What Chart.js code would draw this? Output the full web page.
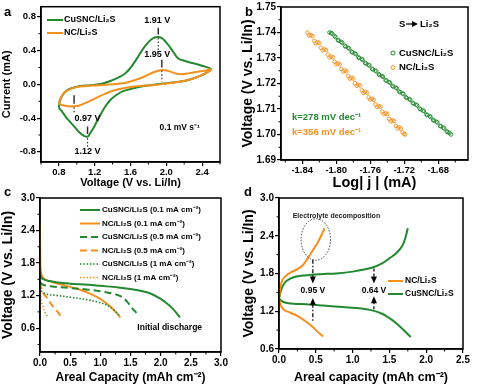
<!DOCTYPE html>
<html>
<head>
<meta charset="utf-8">
<script src="https://cdn.jsdelivr.net/npm/chart.js@4.4.1/dist/chart.umd.min.js"></script>
<style>
  html, body { margin: 0; padding: 0; background: #fff; }
  #wrap { position: relative; width: 480px; height: 388px; overflow: hidden; }
  canvas { position: absolute; }
</style>
</head>
<body>
<div id="wrap">
  <canvas id="chartA" width="240" height="195" style="left:0;top:0"></canvas>
  <canvas id="chartB" width="240" height="195" style="left:240px;top:0"></canvas>
  <canvas id="chartC" width="240" height="203" style="left:0;top:185px"></canvas>
  <canvas id="chartD" width="240" height="203" style="left:240px;top:185px"></canvas>
</div>
<script>
const FONT = '"Liberation Sans", Arial, Helvetica, sans-serif';
const GREEN = '#23892f';
const ORANGE = '#f5901e';

// ---- (a) cyclic voltammetry ----
const aXTicks = [0.8, 1.2, 1.6, 2.0, 2.4];
const aYTicks = [-0.8, -0.4, 0.0, 0.4, 0.8];
const cvCuV = [0.80, 0.81, 0.84, 0.89, 0.96, 1.04, 1.15, 1.29, 1.40, 1.48, 1.53, 1.56, 1.58, 1.63, 1.68, 1.74, 1.80, 1.86, 1.91, 1.96, 2.02, 2.08, 2.13, 2.20, 2.30, 2.40, 2.50,
               2.45, 2.38, 2.30, 2.20, 2.05, 1.90, 1.75, 1.62, 1.52, 1.45, 1.38, 1.32, 1.26, 1.20, 1.15, 1.12, 1.08, 1.03, 0.98, 0.93, 0.88, 0.84, 0.80];
const cvCuI = [-0.28, -0.20, -0.13, -0.07, -0.04, -0.02, -0.01, 0.01, 0.05, 0.09, 0.12, 0.15, 0.17, 0.24, 0.32, 0.42, 0.50, 0.55, 0.56, 0.54, 0.47, 0.38, 0.31, 0.28, 0.25, 0.22, 0.18,
               0.14, 0.10, 0.07, 0.04, 0.02, 0.00, -0.02, -0.05, -0.08, -0.12, -0.18, -0.26, -0.37, -0.49, -0.58, -0.62, -0.61, -0.57, -0.51, -0.45, -0.39, -0.33, -0.28];
const cvNcV = [0.80, 0.82, 0.86, 0.92, 1.00, 1.10, 1.25, 1.40, 1.55, 1.65, 1.75, 1.85, 1.95, 2.02, 2.10, 2.17, 2.25, 2.35, 2.43, 2.50,
               2.42, 2.30, 2.15, 2.00, 1.85, 1.70, 1.55, 1.42, 1.32, 1.22, 1.12, 1.03, 0.97, 0.91, 0.86, 0.82, 0.80];
const cvNcI = [-0.22, -0.16, -0.10, -0.06, -0.03, -0.02, -0.01, 0.00, 0.02, 0.05, 0.09, 0.14, 0.17, 0.16, 0.13, 0.12, 0.13, 0.15, 0.16, 0.18,
               0.12, 0.07, 0.03, 0.01, -0.01, -0.02, -0.04, -0.07, -0.11, -0.16, -0.21, -0.25, -0.26, -0.26, -0.25, -0.24, -0.22];

// ---- (b) Tafel plots ----
const bXTicks = [-1.84, -1.80, -1.76, -1.72, -1.68];
const bYTicks = [1.69, 1.70, 1.71, 1.72, 1.73, 1.74, 1.75];
const tafCuX = [-1.808, -1.805, -1.801, -1.797, -1.793, -1.789, -1.785, -1.781, -1.777, -1.773, -1.769, -1.765, -1.761, -1.757, -1.753, -1.749, -1.745, -1.741, -1.737,
                -1.733, -1.729, -1.725, -1.721, -1.717, -1.713, -1.709, -1.705, -1.701, -1.697, -1.693, -1.689, -1.685, -1.681, -1.677, -1.673, -1.669, -1.665,
                -1.806, -1.802, -1.798, -1.794, -1.790, -1.786, -1.782, -1.778, -1.774, -1.770, -1.766, -1.762, -1.758, -1.754, -1.750, -1.746, -1.742, -1.738,
                -1.734, -1.730, -1.726, -1.722, -1.718, -1.714, -1.710, -1.706, -1.702, -1.698, -1.694, -1.690, -1.686, -1.682, -1.678, -1.674, -1.670, -1.667];
const tafCuY = [1.7400, 1.7396, 1.7382, 1.7368, 1.7360, 1.7345, 1.7337, 1.7322, 1.7315, 1.7300, 1.7293, 1.7278, 1.7271, 1.7255, 1.7248, 1.7233, 1.7226, 1.7211, 1.7203,
                1.7188, 1.7181, 1.7166, 1.7159, 1.7143, 1.7136, 1.7121, 1.7114, 1.7099, 1.7092, 1.7076, 1.7069, 1.7054, 1.7047, 1.7032, 1.7024, 1.7010, 1.7000,
                1.7398, 1.7386, 1.7370, 1.7363, 1.7348, 1.7340, 1.7325, 1.7318, 1.7303, 1.7296, 1.7281, 1.7273, 1.7258, 1.7251, 1.7236, 1.7229, 1.7213, 1.7206,
                1.7191, 1.7184, 1.7169, 1.7161, 1.7146, 1.7139, 1.7124, 1.7117, 1.7102, 1.7094, 1.7079, 1.7072, 1.7057, 1.7050, 1.7034, 1.7027, 1.7012, 1.7006];
const tafNcX = [-1.834, -1.830, -1.826, -1.822, -1.818, -1.814, -1.810, -1.806, -1.802, -1.798, -1.794, -1.790, -1.786, -1.782, -1.778, -1.774, -1.770, -1.766, -1.762,
                -1.758, -1.754, -1.750, -1.746, -1.742, -1.738, -1.734, -1.730, -1.726, -1.722, -1.719,
                -1.832, -1.828, -1.824, -1.820, -1.816, -1.812, -1.808, -1.804, -1.800, -1.796, -1.792, -1.788, -1.784, -1.780, -1.776, -1.772, -1.768, -1.764,
                -1.760, -1.756, -1.752, -1.748, -1.744, -1.740, -1.736, -1.732, -1.728, -1.724, -1.720];
const tafNcY = [1.7400, 1.7390, 1.7368, 1.7362, 1.7340, 1.7334, 1.7313, 1.7306, 1.7285, 1.7279, 1.7257, 1.7251, 1.7229, 1.7223, 1.7201, 1.7195, 1.7173, 1.7168, 1.7146,
                1.7140, 1.7118, 1.7112, 1.7090, 1.7084, 1.7062, 1.7056, 1.7034, 1.7028, 1.7008, 1.7000,
                1.7388, 1.7386, 1.7358, 1.7359, 1.7330, 1.7331, 1.7302, 1.7303, 1.7276, 1.7275, 1.7247, 1.7248, 1.7219, 1.7219, 1.7191, 1.7192, 1.7163, 1.7164,
                1.7137, 1.7136, 1.7108, 1.7109, 1.7080, 1.7080, 1.7052, 1.7053, 1.7024, 1.7023, 1.7002];

// ---- (c) initial discharge ----
const cXTicks = [0.0, 0.5, 1.0, 1.5, 2.0, 2.5, 3.0];
const cYTicks = [0.6, 1.2, 1.8, 2.4, 3.0];
const cuHiCap = [0, 0.01, 0.03, 0.08, 0.15, 0.3, 0.5, 0.8, 1.0, 1.3, 1.5, 1.7, 1.85, 2.0, 2.1, 2.2, 2.32];
const cuHiV   = [1.62, 1.56, 1.52, 1.49, 1.47, 1.44, 1.42, 1.40, 1.38, 1.35, 1.32, 1.28, 1.23, 1.14, 1.06, 0.96, 0.80];
const ncHiCap = [0, 0.003, 0.008, 0.02, 0.05, 0.1, 0.2, 0.4, 0.6, 0.8, 0.95, 1.1, 1.22, 1.33];
const ncHiV   = [2.50, 2.00, 1.75, 1.60, 1.53, 1.49, 1.45, 1.39, 1.33, 1.25, 1.17, 1.06, 0.94, 0.80];
const cuMidCap = [0, 0.05, 0.2, 0.5, 0.8, 1.0, 1.2, 1.35, 1.45, 1.52, 1.6];
const cuMidV   = [1.45, 1.40, 1.37, 1.34, 1.31, 1.28, 1.24, 1.18, 1.08, 0.98, 0.88];
const ncMidCap = [0, 0.02, 0.05, 0.1, 0.15, 0.2, 0.28, 0.37];
const ncMidV   = [1.45, 1.35, 1.25, 1.18, 1.10, 1.02, 0.92, 0.78];
const cuLoCap = [0, 0.03, 0.1, 0.3, 0.5, 0.8, 1.0, 1.15, 1.25, 1.31];
const cuLoV   = [1.35, 1.28, 1.23, 1.20, 1.17, 1.12, 1.07, 1.00, 0.91, 0.84];
const ncLoCap = [0, 0.02, 0.05, 0.08, 0.12];
const ncLoV   = [1.25, 1.10, 1.00, 0.90, 0.82];

// ---- (d) charge / discharge ----
const dXTicks = [0.0, 0.5, 1.0, 1.5, 2.0, 2.5];
const dYTicks = [0.6, 1.2, 1.8, 2.4, 3.0];
const ncChgCap = [0, 0.01, 0.02, 0.04, 0.08, 0.15, 0.25, 0.33, 0.39, 0.45, 0.52, 0.58, 0.62];
const ncChgV   = [1.40, 1.50, 1.60, 1.68, 1.75, 1.81, 1.87, 1.94, 2.04, 2.15, 2.28, 2.42, 2.52];
const ncDisCap = [0, 0.01, 0.03, 0.07, 0.15, 0.26, 0.35, 0.44, 0.52, 0.60];
const ncDisV   = [1.40, 1.35, 1.28, 1.22, 1.18, 1.12, 1.05, 0.97, 0.88, 0.80];
const cuChgCap = [0, 0.02, 0.05, 0.1, 0.2, 0.35, 0.55, 0.78, 1.0, 1.28, 1.4, 1.5, 1.6, 1.68, 1.72, 1.75];
const cuChgV   = [1.40, 1.50, 1.60, 1.68, 1.74, 1.77, 1.79, 1.80, 1.83, 1.90, 1.96, 2.04, 2.13, 2.25, 2.38, 2.52];
const cuDisCap = [0, 0.03, 0.08, 0.2, 0.37, 0.6, 0.82, 1.05, 1.28, 1.4, 1.5, 1.58, 1.65, 1.72, 1.79];
const cuDisV   = [1.40, 1.37, 1.34, 1.32, 1.31, 1.29, 1.27, 1.25, 1.21, 1.16, 1.09, 1.02, 0.95, 0.87, 0.79];

const pts = (xs, ys) => xs.map((x, i) => ({ x: x, y: ys[i] }));

function axis(o) {
  return {
    type: 'linear', min: o.min, max: o.max,
    afterBuildTicks: s => { s.ticks = o.ticks.map(v => ({ value: v })); },
    afterFit: s => { if (s.isHorizontal()) s.height = o.size; else s.width = o.size; },
    grid: { drawOnChartArea: false, drawTicks: true, tickLength: 4, color: '#000', lineWidth: 1.2 },
    border: { display: true, color: '#000', width: 1.5 },
    ticks: {
      color: '#000', padding: 1, maxRotation: 0, autoSkip: false,
      font: { family: FONT, weight: 'bold', size: o.tickSize },
      callback: v => Number(v).toFixed(o.dec)
    },
    title: {
      display: true, text: o.title, color: '#000',
      font: { family: FONT, weight: 'bold', size: o.titleSize },
      padding: o.titlePad
    }
  };
}

function line(data, color, dash, width) {
  return {
    data: data, showLine: true, borderColor: color, borderWidth: width || 2,
    borderDash: dash || [], pointRadius: 0, tension: 0.35, fill: false
  };
}

// frame around plot area + minor ticks
const framePlugin = {
  id: 'frame',
  afterDraw(chart) {
    const { ctx, chartArea: a } = chart;
    ctx.save();
    ctx.strokeStyle = '#000';
    ctx.lineWidth = 1.5;
    ctx.setLineDash([]);
    ctx.strokeRect(a.left, a.top, a.right - a.left, a.bottom - a.top);
    ctx.lineWidth = 1;
    ['x', 'y'].forEach(id => {
      const s = chart.scales[id];
      const vals = s.ticks.map(t => t.value);
      const step = vals[1] - vals[0];
      for (let v = vals[0] - step / 2; v <= s.max + 1e-9; v += step) {
        if (v < s.min - 1e-9) continue;
        const p = s.getPixelForValue(v);
        ctx.beginPath();
        if (id === 'x') { ctx.moveTo(p, a.bottom); ctx.lineTo(p, a.bottom + 2.5); }
        else { ctx.moveTo(a.left - 2.5, p); ctx.lineTo(a.left, p); }
        ctx.stroke();
      }
    });
    ctx.restore();
  }
};

function text(ctx, s, x, y, size, color, align) {
  ctx.font = 'bold ' + size + 'px ' + FONT;
  ctx.fillStyle = color || '#000';
  ctx.textAlign = align || 'left';
  ctx.textBaseline = 'middle';
  ctx.fillText(s, x, y);
}

function vline(ctx, x, y1, y2, dash, width) {
  ctx.save();
  ctx.setLineDash(dash || []);
  ctx.lineWidth = width || 1;
  ctx.beginPath(); ctx.moveTo(x, y1); ctx.lineTo(x, y2); ctx.stroke();
  ctx.restore();
}

function arrowHead(ctx, x, tipY, dir) {
  // dir = 1 points down, -1 points up
  ctx.beginPath();
  ctx.moveTo(x - 3, tipY - dir * 7);
  ctx.lineTo(x + 3, tipY - dir * 7);
  ctx.lineTo(x, tipY);
  ctx.closePath();
  ctx.fill();
}

function annot(fn) {
  return { id: 'annot', afterDatasetsDraw(chart) {
    const ctx = chart.ctx;
    ctx.save();
    fn(ctx, chart.scales.x, chart.scales.y);
    ctx.restore();
  } };
}

function baseOptions(pad, xs, ys) {
  return {
    responsive: false, animation: false, events: [],
    layout: { padding: pad },
    plugins: { legend: { display: false }, tooltip: { enabled: false } },
    scales: { x: xs, y: ys }
  };
}

// ---------- chart a ----------
new Chart(document.getElementById('chartA'), {
  type: 'scatter',
  data: { datasets: [
    line(pts(cvNcV, cvNcI), ORANGE),
    line(pts(cvCuV, cvCuI), GREEN)
  ] },
  options: baseOptions({ left: 0, top: 6, right: 20, bottom: 0 },
    axis({ min: 0.6, max: 2.6, ticks: aXTicks, size: 33, tickSize: 9.5, dec: 1, title: 'Voltage (V vs. Li/In)', titleSize: 11, titlePad: { top: 0, bottom: 5 } }),
    axis({ min: -0.92, max: 0.92, ticks: aYTicks, size: 41, tickSize: 9.5, dec: 1, title: 'Current (mA)', titleSize: 11, titlePad: { top: 0, bottom: 0 } })),
  plugins: [framePlugin, annot((ctx, x, y) => {
    text(ctx, 'a', 4, 12, 13);
    ctx.lineWidth = 2;
    ctx.strokeStyle = GREEN;
    ctx.beginPath(); ctx.moveTo(47, 20); ctx.lineTo(63, 20); ctx.stroke();
    ctx.strokeStyle = ORANGE;
    ctx.beginPath(); ctx.moveTo(47, 33); ctx.lineTo(63, 33); ctx.stroke();
    text(ctx, 'CuSNC/Li\u2082S', 64, 20, 9);
    text(ctx, 'NC/Li\u2082S', 64, 33, 9);
    ctx.strokeStyle = '#333';
    // peak markers
    vline(ctx, x.getPixelForValue(1.91), y.getPixelForValue(0.67), y.getPixelForValue(0.59), [], 1.5);
    vline(ctx, x.getPixelForValue(1.91), y.getPixelForValue(0.55), y.getPixelForValue(0.40), [1.5, 2], 1.2);
    text(ctx, '1.91 V', x.getPixelForValue(1.90), y.getPixelForValue(0.76), 9, '#000', 'center');
    vline(ctx, x.getPixelForValue(1.95), y.getPixelForValue(0.29), y.getPixelForValue(0.20), [], 1.5);
    vline(ctx, x.getPixelForValue(1.95), y.getPixelForValue(0.16), y.getPixelForValue(0.03), [1.5, 2], 1.2);
    text(ctx, '1.95 V', x.getPixelForValue(1.90), y.getPixelForValue(0.35), 9, '#000', 'center');
    vline(ctx, x.getPixelForValue(0.97), y.getPixelForValue(-0.13), y.getPixelForValue(-0.23), [], 1.5);
    vline(ctx, x.getPixelForValue(0.97), y.getPixelForValue(-0.27), y.getPixelForValue(-0.35), [1.5, 2], 1.2);
    text(ctx, '0.97 V', x.getPixelForValue(0.975), y.getPixelForValue(-0.40), 9);
    vline(ctx, x.getPixelForValue(1.12), y.getPixelForValue(-0.50), y.getPixelForValue(-0.59), [], 1.5);
    vline(ctx, x.getPixelForValue(1.12), y.getPixelForValue(-0.64), y.getPixelForValue(-0.74), [1.5, 2], 1.2);
    text(ctx, '1.12 V', x.getPixelForValue(1.12), y.getPixelForValue(-0.80), 9, '#000', 'center');
    text(ctx, '0.1 mV s\u207B\u00B9', x.getPixelForValue(2.15), y.getPixelForValue(-0.51), 8.5, '#000', 'center');
  })]
});

// ---------- chart b ----------
function marks(data, color) {
  return { data: data, showLine: false, pointStyle: 'circle', pointRadius: 1.8, borderWidth: 0.9,
           borderColor: color, backgroundColor: 'rgba(255,255,255,0)' };
}
new Chart(document.getElementById('chartB'), {
  type: 'scatter',
  data: { datasets: [
    marks(pts(tafNcX, tafNcY), ORANGE),
    marks(pts(tafCuX, tafCuY), GREEN)
  ] },
  options: baseOptions({ left: 0, top: 7, right: 12, bottom: 0 },
    axis({ min: -1.865, max: -1.645, ticks: bXTicks, size: 35, tickSize: 9.5, dec: 2, title: 'Log| j | (mA)', titleSize: 14.5, titlePad: { top: 0, bottom: 3.5 } }),
    axis({ min: 1.69, max: 1.75, ticks: bYTicks, size: 41, tickSize: 10, dec: 2, title: 'Voltage (V vs. Li/In)', titleSize: 14, titlePad: { top: 0, bottom: 0 } })),
  plugins: [framePlugin, annot((ctx, x, y) => {
    text(ctx, 'b', 5, 12, 13);
    text(ctx, 'S', 159, 24, 9.5);
    ctx.strokeStyle = '#000'; ctx.fillStyle = '#000'; ctx.lineWidth = 1.2;
    ctx.beginPath(); ctx.moveTo(166, 24); ctx.lineTo(174, 24); ctx.stroke();
    ctx.beginPath(); ctx.moveTo(178, 24); ctx.lineTo(172, 21); ctx.lineTo(172, 27); ctx.closePath(); ctx.fill();
    text(ctx, 'Li\u2082S', 180, 24, 9.5);
    ctx.lineWidth = 1;
    ctx.strokeStyle = GREEN;
    ctx.beginPath(); ctx.arc(153, 53, 2, 0, Math.PI * 2); ctx.stroke();
    ctx.strokeStyle = ORANGE;
    ctx.beginPath(); ctx.arc(153, 67.5, 2, 0, Math.PI * 2); ctx.stroke();
    text(ctx, 'CuSNC/Li\u2082S', 159, 53, 9.5);
    text(ctx, 'NC/Li\u2082S', 159, 67.5, 9.5);
    text(ctx, 'k=278 mV dec\u207B\u00B9', 52, 117, 9.5, GREEN);
    text(ctx, 'k=356 mV dec\u207B\u00B9', 52, 132, 9.5, ORANGE);
  })]
});

// ---------- chart c ----------
const DASH = [7, 4];
const DOT = [1.5, 1.8];
new Chart(document.getElementById('chartC'), {
  type: 'scatter',
  data: { datasets: [
    line(pts(cuLoCap, cuLoV), GREEN, DOT, 1.6),
    line(pts(ncLoCap, ncLoV), ORANGE, DOT, 1.6),
    line(pts(cuMidCap, cuMidV), GREEN, DASH),
    line(pts(ncMidCap, ncMidV), ORANGE, DASH),
    line(pts(cuHiCap, cuHiV), GREEN),
    line(pts(ncHiCap, ncHiV), ORANGE)
  ] },
  options: baseOptions({ left: 0, top: 13, right: 19, bottom: 0 },
    axis({ min: 0, max: 3, ticks: cXTicks, size: 36, tickSize: 10, dec: 1, title: 'Areal Capacity (mAh cm\u207B\u00B2)', titleSize: 12, titlePad: { top: 0, bottom: 3 } }),
    axis({ min: 0.16, max: 3.0, ticks: cYTicks, size: 40, tickSize: 10, dec: 1, title: 'Voltage (V vs. Li/In)', titleSize: 14, titlePad: { top: 0, bottom: 0 } })),
  plugins: [framePlugin, annot((ctx, x, y) => {
    text(ctx, 'c', 4, 7, 13);
    const rows = [
      ['CuSNC/Li\u2082S (0.1 mA cm\u207B\u00B2)', GREEN, [], 2],
      ['NC/Li\u2082S (0.1 mA cm\u207B\u00B2)', ORANGE, [], 2],
      ['CuSNC/Li\u2082S (0.5 mA cm\u207B\u00B2)', GREEN, [7, 4], 2],
      ['NC/Li\u2082S (0.5 mA cm\u207B\u00B2)', ORANGE, [7, 4], 2],
      ['CuSNC/Li\u2082S (1 mA cm\u207B\u00B2)', GREEN, DOT, 1.6],
      ['NC/Li\u2082S (1 mA cm\u207B\u00B2)', ORANGE, DOT, 1.6]
    ];
    rows.forEach((r, i) => {
      const yy = 25 + i * 13.5;
      ctx.save();
      ctx.strokeStyle = r[1]; ctx.lineWidth = r[3]; ctx.setLineDash(r[2]);
      ctx.beginPath(); ctx.moveTo(80, yy); ctx.lineTo(100, yy); ctx.stroke();
      ctx.restore();
      text(ctx, r[0], 102, yy, 8);
    });
    text(ctx, 'Initial discharge', x.getPixelForValue(2.15), y.getPixelForValue(0.6), 8.5, '#000', 'center');
  })]
});

// ---------- chart d ----------
new Chart(document.getElementById('chartD'), {
  type: 'scatter',
  data: { datasets: [
    line(pts(ncChgCap, ncChgV), ORANGE),
    line(pts(ncDisCap, ncDisV), ORANGE),
    line(pts(cuChgCap, cuChgV), GREEN),
    line(pts(cuDisCap, cuDisV), GREEN)
  ] },
  options: baseOptions({ left: 0, top: 13, right: 17, bottom: 0 },
    axis({ min: 0, max: 2.5, ticks: dXTicks, size: 39, tickSize: 10, dec: 1, title: 'Areal capacity (mAh cm\u207B\u00B2)', titleSize: 12.5, titlePad: { top: 0, bottom: 2.5 } }),
    axis({ min: 0.6, max: 3.0, ticks: dYTicks, size: 39, tickSize: 10, dec: 1, title: 'Voltage (V vs. Li/In)', titleSize: 14, titlePad: { top: 1, bottom: 0 } })),
  plugins: [framePlugin, annot((ctx, x, y) => {
    text(ctx, 'd', 4, 7, 13);
    text(ctx, 'Electrolyte decomposition', x.getPixelForValue(0.78), y.getPixelForValue(2.72), 7, '#222', 'center');
    // dotted ellipse
    ctx.save();
    ctx.strokeStyle = '#444'; ctx.lineWidth = 1; ctx.setLineDash([1.5, 1.5]);
    const cx = x.getPixelForValue(0.5), cy = y.getPixelForValue(2.34);
    ctx.beginPath();
    ctx.ellipse(cx, cy, x.getPixelForValue(0.2) - x.getPixelForValue(0), y.getPixelForValue(2.0) - y.getPixelForValue(2.33), 0, 0, Math.PI * 2);
    ctx.stroke();
    ctx.restore();
    ctx.strokeStyle = '#000'; ctx.fillStyle = '#000';
    // 0.95 V gap
    const x1 = x.getPixelForValue(0.46);
    vline(ctx, x1, y.getPixelForValue(2.02), y.getPixelForValue(1.72), [4, 2, 1.5, 2], 1.2);
    arrowHead(ctx, x1, y.getPixelForValue(1.64), 1);
    text(ctx, '0.95 V', x1, y.getPixelForValue(1.52), 8.5, '#000', 'center');
    arrowHead(ctx, x1, y.getPixelForValue(1.41), -1);
    vline(ctx, x1, y.getPixelForValue(1.32), y.getPixelForValue(1.03), [4, 2, 1.5, 2], 1.2);
    // 0.64 V gap
    const x2 = x.getPixelForValue(1.29);
    vline(ctx, x2, y.getPixelForValue(1.88), y.getPixelForValue(1.72), [3, 2], 1.2);
    arrowHead(ctx, x2, y.getPixelForValue(1.64), 1);
    text(ctx, '0.64 V', x2, y.getPixelForValue(1.52), 8.5, '#000', 'center');
    arrowHead(ctx, x2, y.getPixelForValue(1.44), -1);
    vline(ctx, x2, y.getPixelForValue(1.36), y.getPixelForValue(1.22), [3, 2], 1.2);
    // legend
    ctx.lineWidth = 2;
    ctx.strokeStyle = ORANGE;
    ctx.beginPath(); ctx.moveTo(148, 96); ctx.lineTo(163, 96); ctx.stroke();
    ctx.strokeStyle = GREEN;
    ctx.beginPath(); ctx.moveTo(148, 109); ctx.lineTo(163, 109); ctx.stroke();
    text(ctx, 'NC/Li\u2082S', 165, 96, 8.5);
    text(ctx, 'CuSNC/Li\u2082S', 165, 109, 8.5);
  })]
});
</script>
</body>
</html>
